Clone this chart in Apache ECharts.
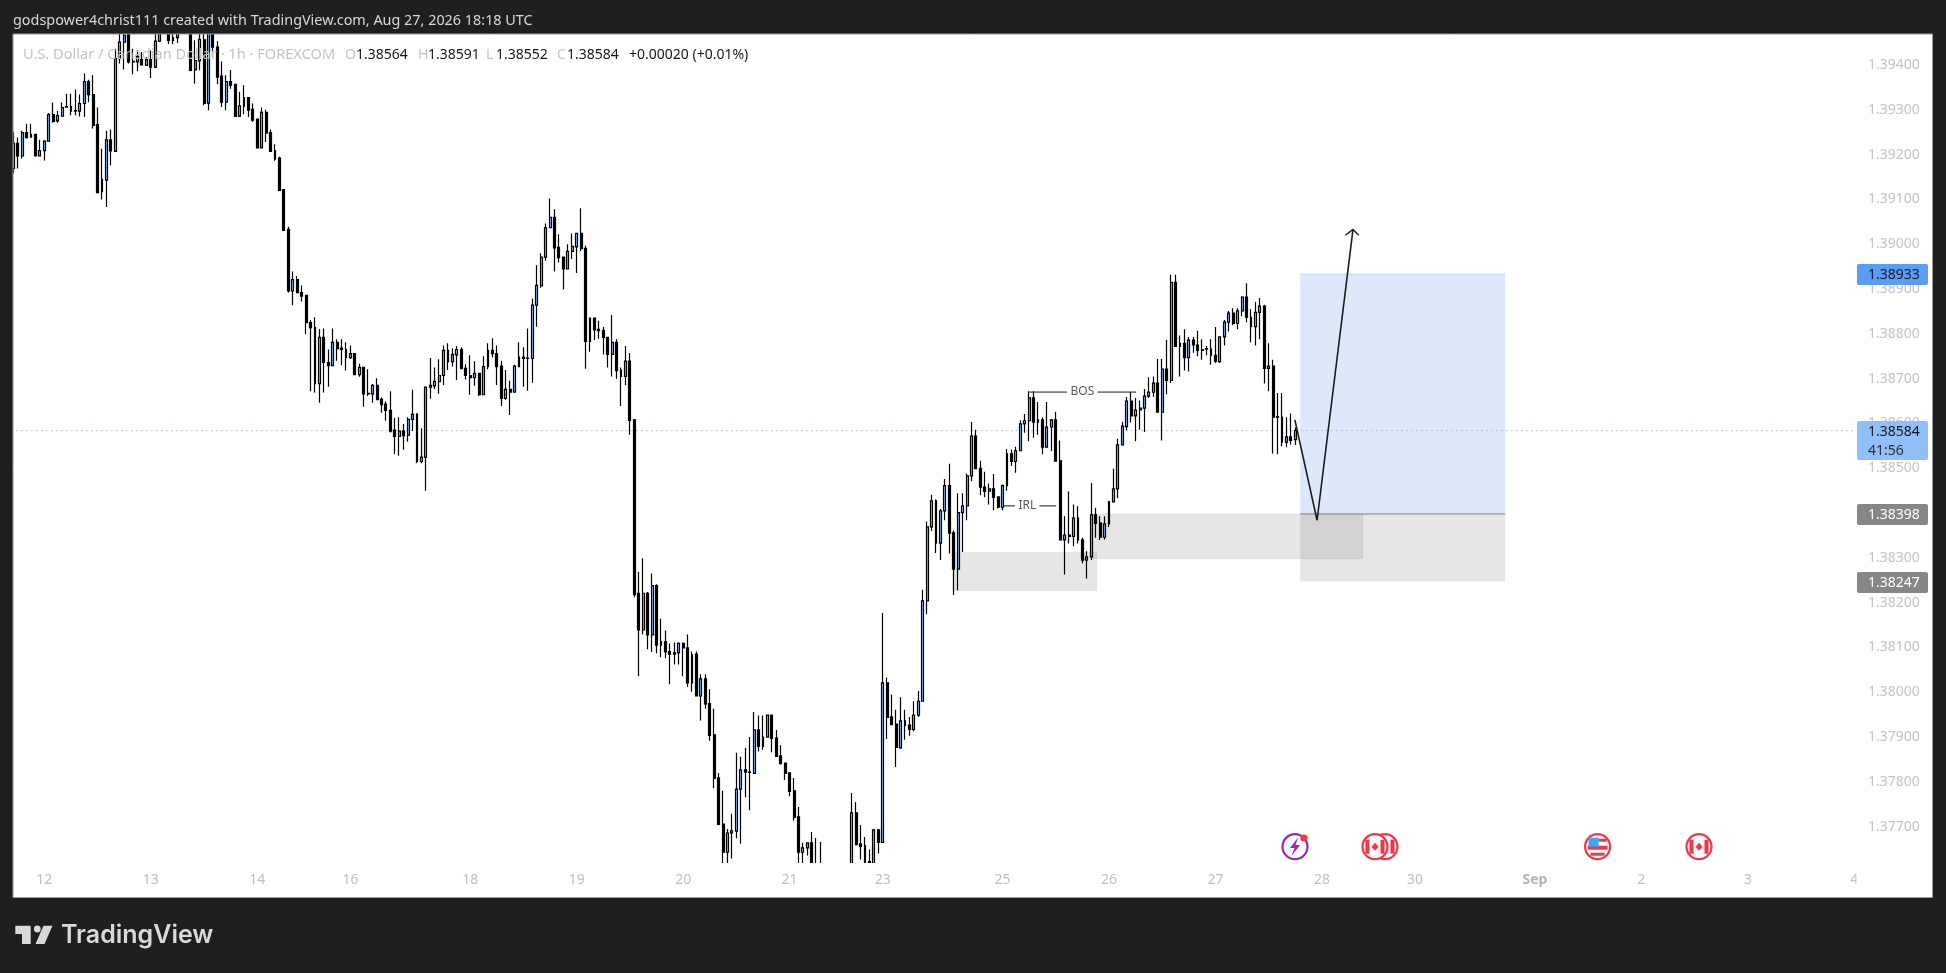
<!DOCTYPE html>
<html><head><meta charset="utf-8">
<style>html,body{margin:0;padding:0;background:#1f1f1f}#c{width:1946px;height:973px}</style>
<script src="https://cdn.jsdelivr.net/npm/echarts@6/dist/echarts.min.js"></script>
</head><body><div id="c"></div>
<script>
// Hourly USD/CAD candles, in 1/100000 price units.
const opens=[
139169,139225,139197,139249,139239,139245,139197,139209,139230,139289,
139275,139286,139307,139307,139298,139297,139314,139363,139334,139267,
139117,139143,139233,139207,139414,139451,139473,139408,139407,139412,
139399,139412,139395,139453,139500,139481,139455,139461,139480,139510,
139481,139389,139409,139456,139315,139481,139440,139375,139317,139363,
139357,139286,139308,139327,139301,139279,139215,139294,139249,139209,
139192,139122,139033,138896,138921,138892,138886,138825,138814,138689,
138792,138736,138729,138781,138768,138765,138747,138756,138709,138725,
138667,138666,138685,138654,138643,138629,138585,138571,138583,138574,
138609,138621,138515,138525,138681,138684,138693,138707,138763,138738,
138753,138765,138723,138707,138702,138712,138664,138727,138763,138756,
138728,138656,138676,138670,138727,138748,138746,138745,138864,138907,
138971,139037,139060,138993,138971,138945,138984,138994,139024,138991,
138783,138835,138810,138808,138792,138754,138781,138719,138705,138739,
138608,138221,138139,138221,138128,138238,138105,138113,138091,138088,
138088,138109,138099,138021,138085,137992,138030,137975,137905,137809,
137706,137643,137686,137690,137784,137827,137822,137819,137916,137879,
137900,137949,137898,137858,137842,137820,137780,137722,137643,137653,
137664,137605,137600,137590,137570,137590,137560,137585,137565,137600,
137731,137662,137658,137622,137610,137693,137665,138021,137945,137929,
137876,137936,137927,137917,137949,137980,138204,138369,138427,138333,
138405,138461,138356,138275,138401,138416,138483,138572,138500,138458,
138449,138454,138436,138413,138461,138532,138515,138539,138599,138606,
138657,138603,138608,138547,138592,138608,138517,138340,138351,138348,
138389,138340,138295,138302,138396,138378,138346,138376,138425,138454,
138552,138593,138650,138617,138630,138634,138661,138670,138690,138625,
138721,138696,138915,138772,138779,138747,138786,138775,138764,138767,
138766,138752,138738,138793,138826,138846,138823,138851,138882,138837,
138816,138848,138862,138723,138728,138615,138614,138558,138570,138564];
const closes=[
139225,139197,139249,139238,139245,139197,139209,139230,139289,139274,
139287,139305,139306,139297,139297,139314,139363,139334,139265,139115,
139144,139233,139208,139414,139451,139466,139407,139407,139419,139400,
139412,139395,139453,139477,139480,139455,139461,139477,139510,139500,
139388,139410,139457,139314,139481,139440,139373,139317,139363,139355,
139285,139309,139327,139299,139277,139215,139294,139248,139207,139190,
139120,139031,138896,138921,138892,138884,138825,138814,138689,138792,
138736,138729,138781,138767,138765,138747,138756,138709,138725,138666,
138666,138685,138653,138642,138629,138583,138571,138583,138573,138609,
138620,138515,138525,138681,138685,138694,138707,138763,138738,138754,
138765,138722,138707,138702,138712,138664,138727,138763,138756,138727,
138656,138676,138670,138728,138748,138745,138745,138864,138908,138971,
139037,139060,138992,138970,138945,138984,138995,139024,138990,138783,
138835,138809,138807,138792,138754,138781,138718,138705,138739,138607,
138218,138139,138221,138128,138238,138105,138113,138090,138085,138085,
138109,138099,138021,138084,137992,138030,137974,137904,137808,137705,
137643,137686,137691,137784,137827,137822,137821,137916,137879,137900,
137949,137897,137857,137841,137819,137779,137721,137643,137653,137664,
137590,137585,137580,137570,137590,137560,137585,137565,137600,137731,
137660,137656,137605,137615,137693,137665,138021,137944,137928,137877,
137936,137926,137917,137949,137980,138204,138369,138427,138333,138405,
138461,138355,138275,138401,138416,138483,138572,138499,138458,138449,
138454,138435,138413,138461,138532,138515,138539,138599,138606,138657,
138603,138608,138547,138592,138608,138516,138340,138351,138348,138389,
138340,138295,138302,138396,138377,138346,138376,138425,138454,138552,
138594,138650,138617,138630,138634,138661,138670,138690,138625,138721,
138696,138915,138772,138779,138747,138786,138775,138763,138763,138766,
138752,138739,138793,138826,138846,138823,138851,138882,138837,138816,
138848,138862,138723,138728,138614,138614,138558,138570,138562,138584];
const highs=[
139251,139238,139253,139269,139269,139245,139233,139232,139293,139316,
139297,139316,139336,139336,139345,139334,139381,139367,139377,139305,
139213,139253,139256,139436,139477,139484,139484,139436,139432,139429,
139418,139432,139473,139492,139520,139492,139470,139490,139530,139540,
139492,139455,139473,139473,139492,139492,139453,139408,139377,139389,
139357,139340,139355,139327,139314,139279,139305,139300,139256,139223,
139195,139122,139039,138939,138929,138908,138886,138831,138837,138811,
138812,138765,138812,138788,138788,138781,138774,138756,138733,138725,
138721,138688,138701,138658,138649,138672,138612,138614,138599,138614,
138675,138623,138589,138681,138746,138725,138743,138774,138779,138768,
138773,138770,138732,138752,138739,138712,138750,138779,138790,138774,
138740,138719,138695,138731,138781,138770,138812,138879,138953,138980,
139046,139102,139078,139022,138971,139000,139024,139024,139080,138997,
138835,138835,138829,138815,138792,138842,138788,138725,138773,138757,
138610,138269,138299,138224,138265,138241,138164,138138,138109,138111,
138111,138111,138129,138091,138091,138040,138040,138007,137963,137820,
137780,137695,137729,137865,137856,137876,137900,137956,137948,137948,
137949,137949,137916,137882,137842,137820,137809,137744,137664,137665,
137688,137675,137666,137610,137600,137605,137595,137600,137612,137775,
137755,137704,137677,137649,137695,137695,138177,138033,137995,137961,
137989,137961,137945,137980,138003,138229,138381,138441,138430,138409,
138476,138510,138361,138444,138444,138488,138603,138586,138517,138492,
138466,138487,138436,138464,138543,138542,138548,138607,138621,138672,
138672,138648,138614,138648,138610,138626,138562,138393,138448,138419,
138415,138345,138315,138467,138412,138393,138393,138427,138499,138566,
138604,138659,138670,138657,138651,138677,138703,138705,138744,138744,
138787,138932,138932,138796,138810,138793,138793,138807,138788,138773,
138788,138815,138794,138831,138851,138857,138857,138884,138913,138855,
138871,138880,138865,138779,138742,138668,138668,138614,138622,138591];
const lows=[
139158,139169,139191,139236,139239,139197,139197,139187,139230,139271,
139271,139286,139306,139288,139288,139285,139284,139317,139258,139114,
139100,139083,139176,139206,139403,139390,139403,139379,139386,139399,
139398,139371,139393,139451,139470,139447,139446,139449,139475,139480,
139386,139358,139388,139310,139299,139419,139357,139306,139299,139347,
139284,139284,139290,139284,139273,139215,139215,139228,139206,139186,
139119,139031,138892,138864,138892,138872,138799,138672,138669,138646,
138669,138682,138729,138740,138730,138718,138744,138709,138704,138637,
138661,138646,138652,138624,138606,138580,138532,138528,138541,138559,
138583,138511,138511,138450,138655,138677,138666,138686,138719,138727,
138697,138722,138698,138664,138684,138661,138664,138721,138747,138686,
138639,138653,138619,138669,138727,138682,138673,138691,138816,138903,
138963,139037,138939,138959,138899,138945,138967,138936,138985,138722,
138760,138786,138789,138754,138725,138705,138700,138639,138685,138575,
138212,138036,138129,138096,138090,138087,138078,138076,138018,138062,
138062,138036,138012,138001,137992,137937,137963,137892,137786,137703,
137600,137600,137629,137674,137662,137766,137737,137819,137868,137872,
137900,137866,137856,137839,137804,137768,137714,137600,137600,137636,
137570,137570,137560,137550,137555,137540,137545,137550,137555,137590,
137660,137627,137590,137600,137600,137640,137665,137896,137928,137833,
137874,137894,137903,137913,137945,137980,138174,138360,138311,138295,
138384,138310,138217,138228,138313,138384,138471,138499,138440,138435,
138419,138406,138410,138406,138450,138505,138490,138538,138579,138560,
138568,138575,138531,138547,138538,138516,138340,138263,138332,138326,
138332,138288,138254,138295,138345,138340,138341,138369,138424,138433,
138551,138585,138602,138560,138586,138581,138657,138659,138625,138562,
138665,138690,138772,138705,138718,138716,138758,138750,138742,138752,
138731,138735,138735,138774,138805,138819,138810,138839,138826,138781,
138774,138788,138689,138672,138533,138531,138549,138547,138553,138552];
const BAR_SLOTS=416;
const dayTickBars=[7,31,55,76,103,127,151,175,196,223,247,271,295,316,343,367,391,415];
const dayTickLabels=['12','13','14','16','18','19','20','21','23','25','26','27','28','30','Sep','2','3','4'];
const priceTicks=[1.377,1.378,1.379,1.380,1.381,1.382,1.383,1.384,1.385,1.386,1.387,1.388,1.389,1.390,1.391,1.392,1.393,1.394];
const lastPrice=1.38584, targetPrice=1.38933, entryPrice=1.38398, stopPrice=1.38247;
// Drawings, as [bar start, bar end, price top, price bottom]
const targetZone=[290.1,336.3,targetPrice,entryPrice];
const stopZone=[290.1,336.3,entryPrice,stopPrice];
const lowerDemandZone=[211.9,244.2,1.38312,1.38227];
const upperDemandZone=[243.4,304.2,1.38398,1.38298];
const forecastPath=[[288.9,1.38608],[293.9,1.38384],[302.0,1.39033]];
const arrowHead=[[300.3,1.39020],[302.0,1.39033],[303.3,1.39020]];
const bosLines=[[[229,1.38670],[237.5,1.38670]],[[244.4,1.38670],[253.1,1.38670]]];
const irlLines=[[[223.2,1.38416],[225.8,1.38416]],[[231.3,1.38416],[235.1,1.38416]]];
const noteLabels=[{name:'BOS',value:[241,1.38670]},{name:'IRL',value:[228.6,1.38416]}];

const FONT='"Noto Sans"';
const categories=Array.from({length:BAR_SLOTS},(_,i)=>String(i));
const tickByBar={};dayTickBars.forEach((b,i)=>tickByBar[b]=dayTickLabels[i]);
const ohlc=opens.map((o,i)=>[o/1e5,closes[i]/1e5,lows[i]/1e5,highs[i]/1e5]);
const zoneData=(z,color,border)=>[{xAxis:z[0],yAxis:z[2],itemStyle:{color,borderColor:border||color,borderWidth:border?1:0}},{xAxis:z[1],yAxis:z[3]}];
const drawLine=(data,z,width,color,type)=>({type:'line',xAxisIndex:1,yAxisIndex:0,data,showSymbol:false,symbol:'none',silent:true,z,
  lineStyle:{width,color,type:type||'solid'}});

const txt=(x,y,text,fill,opt)=>Object.assign({type:'text',silent:true,z:90,
  style:Object.assign({x,y,text,fill,font:'14px '+FONT,textVerticalAlign:'middle',textAlign:'left'},opt||{})});
const rect=(x,y,w,h,fill,r,z)=>({type:'rect',silent:true,z:z||80,shape:{x,y,width:w,height:h,r:r||0},style:{fill}});
const ring=(cx,cy,stroke,z)=>({type:'circle',silent:true,z:z,shape:{cx,cy,r:12.5},style:{fill:'#f8f9fd',stroke,lineWidth:2.2}});
const poly=(points,fill,z)=>({type:'polygon',silent:true,z:z,shape:{points},style:{fill}});
function caIcon(cx,cy,z){return [
  ring(cx,cy,'#f23645',z),
  rect(cx-9.5,cy-7,4,14,'#f23645',0,z),
  rect(cx+5.5,cy-7,4,14,'#f23645',0,z),
  poly([[cx,cy-4],[cx+3.5,cy],[cx,cy+4],[cx-3.5,cy]],'#f23645',z)];}
function usIcon(cx,cy,z){return [
  ring(cx,cy,'#f23645',z),
  rect(cx+1,cy-8,8,3,'#f23645',0,z),
  rect(cx-10,cy-1,20,4,'#f23645',0,z),
  rect(cx-7,cy+6,14,3,'#f23645',0,z),
  rect(cx-9,cy-9,10,9,'#42a5f5',0,z)];}
const Y_ICON=846.7;

const graphics=[
  rect(13,34,1919,863,'#ffffff',0,-10),
  rect(0,0,1946,34,'#1f1f1f',0,8),       // candles are only hidden past the pane by these two bands
  rect(13,863,1919,34,'#ffffff',0,8),
  rect(0,34,13,864,'#1f1f1f',0,60),
  rect(1856.5,868,14,26,'#ffffff',0,60),
  {type:'rect',silent:true,z:61,shape:{x:13,y:34,width:1919.5,height:863.5},style:{fill:'none',stroke:'#9a9a9a',lineWidth:1}},
  txt(13,20.5,'godspower4christ111 created with TradingView.com, Aug 27, 2026 18:18 UTC','#d8d8d8',{font:'14.4px '+FONT}),
  txt(23,55,'U.S. Dollar / Canadian Dollar · 1h · FOREXCOM','#c4c4c4',{font:'14.6px '+FONT}),
  txt(345,55,'O','#c4c4c4'),txt(356,55,'1.38564','#131722'),
  txt(418,55,'H','#c4c4c4'),txt(428,55,'1.38591','#131722'),
  txt(486,55,'L','#c4c4c4'),txt(496,55,'1.38552','#131722'),
  txt(557,55,'C','#c4c4c4'),txt(567,55,'1.38584','#131722'),
  txt(629,55,'+0.00020 (+0.01%)','#131722'),
  // price tags
  rect(1857,264,71,21,'#5b9cf6',2),txt(1868,275.4,'1.38933','#131722'),
  rect(1857,421,71,39,'#90bff9',2),txt(1868,432.3,'1.38584','#131722'),txt(1868,450.8,'41:56','#2a2e39'),
  rect(1857,504,71,21,'#868686',2),txt(1868,515.4,'1.38398','#ffffff'),
  rect(1857,572,71,21,'#868686',2),txt(1868,583.4,'1.38247','#ffffff'),
  // events
  ring(1295,Y_ICON,'#9c27b0',70),
  poly([[1298,837.5],[1290,848],[1294.5,848],[1291.5,856],[1300,845],[1295.5,845]],'#9c27b0',71),
  {type:'circle',silent:true,z:72,shape:{cx:1304,cy:838,r:3.6},style:{fill:'#f23645'}},
  ...caIcon(1385,Y_ICON,70),...caIcon(1375,Y_ICON,74),
  ...usIcon(1597.6,Y_ICON,70),...caIcon(1699,Y_ICON,70),
  // logo
  poly([[15.3,925.7],[30.7,925.7],[30.7,944],[22,944],[22,934],[15.3,934]],'#d9d9d9',90),
  {type:'circle',silent:true,z:90,shape:{cx:37.3,cy:929,r:3.4},style:{fill:'#d9d9d9'}},
  poly([[43.5,925.7],[52.5,925.7],[44.5,944],[35.5,944]],'#d9d9d9',90),
  txt(61,935,'TradingView','#d9d9d9',{font:'600 25px Inter'})
];

const series=[
  {type:'line',xAxisIndex:1,yAxisIndex:0,z:1,silent:true,showSymbol:false,symbol:'none',
   data:[[-0.5,lastPrice],[BAR_SLOTS-0.5,lastPrice]],
   lineStyle:{width:1,type:[1.5,3.5],color:'#9db8e6'},
   markArea:{silent:true,z:1,data:[
     zoneData(targetZone,'#dde9fb'),
     zoneData(stopZone,'rgba(128,128,128,0.2)'),
     zoneData(lowerDemandZone,'rgba(128,128,128,0.2)','rgba(128,128,128,0.12)'),
     zoneData(upperDemandZone,'rgba(128,128,128,0.2)','rgba(128,128,128,0.12)')]}},
  drawLine([[targetZone[0],targetPrice],[targetZone[1],targetPrice]],1,1,'#bcd6fa'),
  drawLine([[targetZone[0],entryPrice],[targetZone[1],entryPrice]],1,1,'#808080'),
  {type:'candlestick',xAxisIndex:0,yAxisIndex:0,z:3,silent:true,data:ohlc,barWidth:2.4,
   itemStyle:{color:'#86b8fa',color0:'#000000',borderColor:'#000000',borderColor0:'#000000',borderWidth:1.2}},
  drawLine(forecastPath,5,1.6,'#1c1c1c'),
  drawLine(arrowHead,5,1.4,'#1c1c1c'),
  ...bosLines.concat(irlLines).map(s=>drawLine(s,5,1,'#131722')),
  {type:'scatter',xAxisIndex:1,yAxisIndex:0,z:6,silent:true,symbolSize:1,itemStyle:{color:'transparent'},data:noteLabels,
   label:{show:true,position:'inside',formatter:'{b}',color:'#2a2e39',fontSize:12,fontFamily:FONT}}
];

const chart=echarts.init(document.getElementById('c'),null,{renderer:'canvas',width:1946,height:973});
chart.setOption({
  animation:false,backgroundColor:'#1f1f1f',
  grid:{left:11.08,right:89.5,top:34,bottom:110.3,containLabel:false},
  xAxis:[
    {type:'category',z:10,data:categories,boundaryGap:true,axisLine:{show:false},axisTick:{show:false},splitLine:{show:false},
     axisLabel:{interval:0,margin:10,hideOverlap:false,showMinLabel:true,showMaxLabel:true,color:'#c0c0c0',fontSize:14,fontFamily:FONT,
       formatter:(v,i)=>{const t=tickByBar[i];if(t===undefined)return '';return t==='Sep'?'{b|Sep}':t;},
       rich:{b:{fontWeight:'bold',color:'#b4b4b4',fontSize:14,fontFamily:FONT}}}},
    {type:'value',min:-0.5,max:BAR_SLOTS-0.5,show:false,splitLine:{show:false}}
  ],
  yAxis:{type:'value',z:10,position:'right',min:1.376197,max:1.394691,scale:true,
    axisLine:{show:false},axisTick:{show:false},splitLine:{show:false},
    axisLabel:{customValues:priceTicks,margin:11.5,padding:[4,0,0,0],color:'#c4c4c4',fontSize:14,fontFamily:FONT,align:'left',
      formatter:v=>v.toFixed(5)}},
  graphic:{elements:graphics},
  series
});
</script></body></html>
